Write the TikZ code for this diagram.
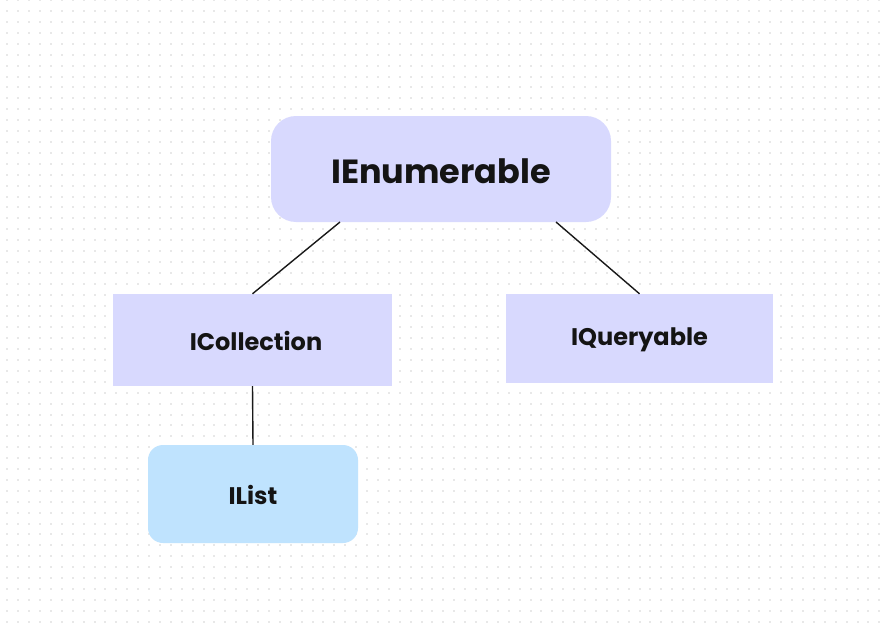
\documentclass[tikz,border=0pt]{standalone}
\usepackage{fontspec}
\setmainfont{Poppins}
\definecolor{boxpurple}{HTML}{D8D9FE}
\definecolor{boxblue}{HTML}{BFE3FE}
\definecolor{dotgray}{HTML}{E8E8E8}
\begin{document}
\begin{tikzpicture}[x=1pt,y=-1pt,
  box/.style={fill=boxpurple,draw=none,inner sep=0pt,font=\bfseries},
  label/.style={inner sep=0pt,font=\bfseries\fontsize{24}{28}\selectfont,text=black!92},
  link/.style={draw=black!90,line width=1.4pt}]
\useasboundingbox (0,0) rectangle (889,626);
\fill[white] (0,0) rectangle (889,626);
\foreach \i in {0,...,80}{
  \foreach \j in {0,...,57}{
    \fill[dotgray] ({7.3+10.9*\i-1},{0.3+10.9*\j-1}) rectangle ++(2,2);
  }
}
\node[box,rounded corners=25pt,minimum width=340pt,minimum height=106pt] (enum) at (441,169) {};
\node[box,minimum width=279pt,minimum height=92pt] (coll) at (252.5,340) {};
\node[box,minimum width=267pt,minimum height=89pt] (query) at (639.5,338.5) {};
\node[box,fill=boxblue,rounded corners=15pt,minimum width=210pt,minimum height=98pt] (list) at (253,494) {};
\node[label,font=\bfseries\fontsize{33.5}{38}\selectfont] (tenum) at (441,171) {IEnumerable};
\node[label] (tcoll) at (256,341) {ICollection};
\node[label] (tquery) at (639.5,340) {IQueryable};
\node[label] (tlist) at (253,495) {IList};
\coordinate (e1) at (340,222);
\coordinate (e2) at (556,222);
\draw[link] (e1) -- (coll.north);
\draw[link] (e2) -- (query.north);
\draw[link] (coll.south) -- (list.north);
\end{tikzpicture}
\end{document}
